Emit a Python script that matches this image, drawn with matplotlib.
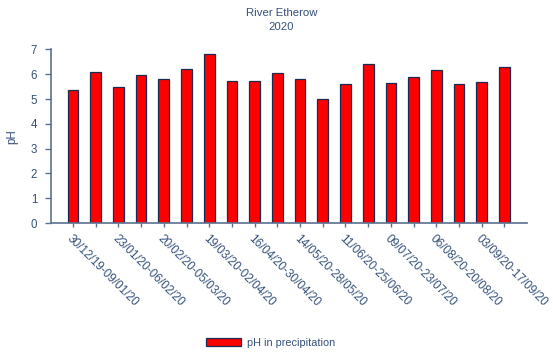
import matplotlib
matplotlib.use("Agg")
import matplotlib.pyplot as plt
import numpy as np

# Fortnightly precipitation pH, River Etherow, 2020
periods = [
    "30/12/19-09/01/20", "", "23/01/20-06/02/20", "", "20/02/20-05/03/20", "",
    "19/03/20-02/04/20", "", "16/04/20-30/04/20", "", "14/05/20-28/05/20", "",
    "11/06/20-25/06/20", "", "09/07/20-23/07/20", "", "06/08/20-20/08/20", "",
    "03/09/20-17/09/20", "",
]
ph_values = [5.36, 6.10, 5.50, 5.95, 5.82, 6.23, 6.80, 5.72, 5.72, 6.03,
             5.82, 5.01, 5.60, 6.42, 5.64, 5.88, 6.17, 5.60, 5.67, 6.30]
y_ticks = [0, 1, 2, 3, 4, 5, 6, 7]

text_color = "#34507a"
axis_color = "#5b7090"
edge_color = "#1c2a52"

plt.rcParams["font.family"] = ["Liberation Sans", "DejaVu Sans"]

fig = plt.figure(figsize=(5.53, 3.58), dpi=100)
ax = fig.add_axes([0.0922, 0.377, 0.861, 0.485])

x = np.arange(len(ph_values))
ax.bar(x, ph_values, width=0.47, color="#ff0000", edgecolor=edge_color,
       linewidth=0.9, label="pH in precipitation", zorder=2)

ax.set_xlim(-0.97, 20.0)
ax.set_ylim(0, 7)
ax.set_yticks(y_ticks)
ax.set_xticks(x)
ax.set_xticklabels(periods, rotation=-45, ha="left", va="top",
                   rotation_mode="anchor", fontsize=8.5, color=text_color)
ax.tick_params(axis="y", labelsize=8.3, labelcolor=text_color, colors=axis_color,
               length=4, width=1, direction="out", pad=6)
ax.tick_params(axis="x", colors=axis_color, length=3, width=1, pad=4)
for lbl in ax.get_xticklabels():
    lbl.set_color(text_color)

for side in ("top", "right"):
    ax.spines[side].set_visible(False)
for side in ("left", "bottom"):
    ax.spines[side].set_color(axis_color)
    ax.spines[side].set_linewidth(1.2)

ax.set_ylabel("pH", fontsize=8.3, color=text_color, labelpad=9)

fig.text(0.509, 0.965, "River Etherow", ha="center", va="center",
         fontsize=8.2, color=text_color)
fig.text(0.509, 0.924, "2020", ha="center", va="center",
         fontsize=8.2, color=text_color)

fig.legend(loc="center", bbox_to_anchor=(0.49, 0.042), frameon=False,
           fontsize=7.8, labelcolor=text_color, handlelength=3.2,
           handleheight=0.7, handletextpad=0.6)

fig.savefig("out.png", dpi=100)
